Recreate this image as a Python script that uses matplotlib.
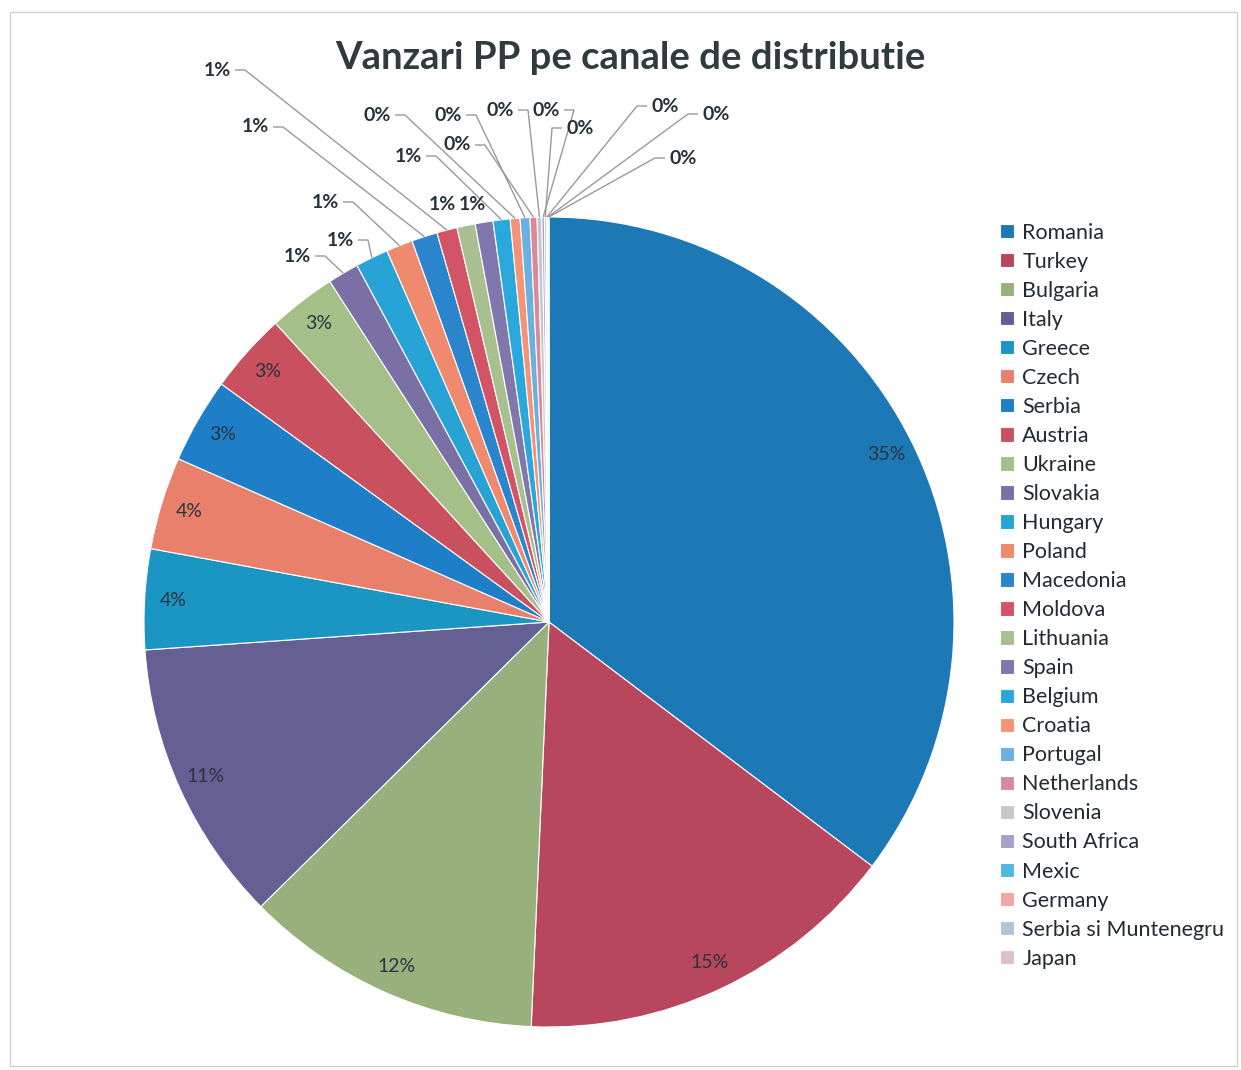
import matplotlib
matplotlib.use("Agg")
import matplotlib.pyplot as plt
import numpy as np
from matplotlib.patches import Rectangle

countries = ["Romania", "Turkey", "Bulgaria", "Italy", "Greece", "Czech", "Serbia",
             "Austria", "Ukraine", "Slovakia", "Hungary", "Poland", "Macedonia",
             "Moldova", "Lithuania", "Spain", "Belgium", "Croatia", "Portugal",
             "Netherlands", "Slovenia", "South Africa", "Mexic", "Germany",
             "Serbia si Muntenegru", "Japan"]
shares = [35.3, 15.4, 11.9, 11.3, 4.0, 3.7, 3.4, 3.2, 2.7, 1.24, 1.31, 1.06, 1.03,
          0.81, 0.73, 0.71, 0.68, 0.39, 0.39, 0.28, 0.19, 0.10, 0.07, 0.05, 0.04, 0.02]
colors = ["#1d78b6", "#b8475e", "#98b07c", "#655f93", "#1a95c4", "#e8806c", "#1e7fc8",
          "#c9505e", "#a5bf88", "#7a70a5", "#27a3d6", "#ef8a6e", "#2a85cc", "#d35466",
          "#a8c090", "#8078ad", "#2aa8dc", "#f59377", "#6ab0e0", "#d88a9c", "#c8c8c8",
          "#a8a0c8", "#50b8e0", "#f0a8a0", "#b0c4e0", "#e0c0c8"]
title = "Vanzari PP pe canale de distributie"

# layout (pixels in the 1241x1070 canvas)
W, H = 1241, 1070
CX, CY, R = 549, 622, 405
n_inside = 9
inside_r = 0.93
# outside label pixel positions for the small slices (Slovakia ... Japan)
out_pos = [(297, 256), (340, 240), (325, 202), (255, 127), (217, 70), (442, 204),
           (472, 204), (408, 156), (377, 115), (448, 115), (457, 145), (500, 110),
           (546, 110), (580, 128), (665, 106), (716, 114), (683, 158)]
no_leader = {5, 6}


def px(x, y):
    return ((x - CX) / R, (CY - y) / R)


fig = plt.figure(figsize=(W / 100, H / 100), dpi=100)
ax = fig.add_axes([0, 0, 1, 1])
ax.axis("off")

wedges, _ = ax.pie(shares, colors=colors, startangle=90, counterclock=False,
                   radius=1.0, center=(0, 0),
                   wedgeprops=dict(edgecolor="white", linewidth=0.8))
ax.set_aspect("equal")
ax.set_xlim(px(0, 0)[0], px(W, 0)[0])
ax.set_ylim(px(0, H)[1], px(0, 0)[1])

total = sum(shares)
labels = [f"{round(v / total * 100)}%" for v in shares]

for i, w in enumerate(wedges):
    mid = np.deg2rad((w.theta1 + w.theta2) / 2)
    if i < n_inside:
        ax.text(inside_r * np.cos(mid), inside_r * np.sin(mid), labels[i],
                ha="center", va="center", fontsize=14, color="#2b3440",
                family="Lato")
    else:
        lx, ly = out_pos[i - n_inside]
        tx, ty = px(lx, ly)
        ax.text(tx, ty, labels[i], ha="center", va="center", fontsize=14,
                color="#26323a", family="Lato", fontweight="bold")
        if (i - n_inside) not in no_leader:
            ex, ey = np.cos(mid), np.sin(mid)
            side = 1 if lx < CX else -1
            sx, sy = px(lx + side * 18, ly)
            hx, hy = px(lx + side * 28, ly)
            ax.plot([sx, hx, ex], [sy, hy, ey], color="#9a9a9a", lw=1.0,
                    solid_capstyle="butt")

fig.text(630 / W, 1 - 58 / H, title, ha="center", va="center", fontsize=27.5,
         fontweight="bold", color="#2f3b3f", family="Lato")

leg = fig.legend(wedges, countries, loc="upper left",
                 bbox_to_anchor=(991 / W, 1 - 214 / H), frameon=False,
                 handlelength=0.65, handleheight=0.65,
                 handletextpad=0.4, labelspacing=0.42, borderaxespad=0,
                 prop=dict(family="Lato", size=15.5))
for t in leg.get_texts():
    t.set_color("#222b33")

fig.patches.append(Rectangle((10 / W, 4 / H), 1227 / W, 1054 / H,
                             transform=fig.transFigure, fill=False,
                             edgecolor="#d0d0d0", lw=1.0))

fig.savefig("out.png", dpi=100, facecolor="white")
